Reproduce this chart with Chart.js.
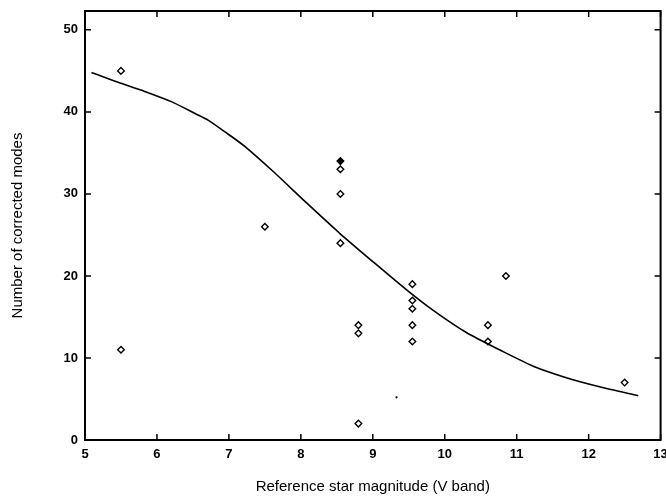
<!DOCTYPE html>
<html>
<head>
<meta charset="utf-8">
<script src="https://cdn.jsdelivr.net/npm/chart.js@4"></script>
<style>
  html, body { margin: 0; padding: 0; background: #fff; }
  #wrap { width: 666px; height: 496px; }
</style>
</head>
<body>
<div id="wrap"><canvas id="chart" width="666" height="496"></canvas></div>
<script>
// measured stars: magnitude vs corrected modes
const starMag   = [5.5, 5.5, 7.5, 8.55, 8.55, 8.55, 8.55, 8.8, 8.8, 8.8, 9.55, 9.55, 9.55, 9.55, 9.55, 10.6, 10.6, 10.85, 12.5];
const starModes = [45, 11, 26, 34, 33, 30, 24, 14, 13, 2, 19, 17, 16, 14, 12, 14, 12, 20, 7];
const filledIdx = [3];

// the lone faint point
const dotMag   = [9.33];
const dotModes = [5.2];

// fitted curve
const fitMag   = [5.09, 5.46, 5.83, 6.20, 6.53, 6.71, 6.94, 7.22, 7.62, 8.08, 8.54, 9.00, 9.47, 9.84, 10.30, 10.76, 11.23, 11.69, 12.15, 12.69];
const fitModes = [44.8, 43.6, 42.5, 41.25, 39.8, 39.0, 37.6, 35.8, 32.7, 28.9, 25.2, 21.75, 18.3, 15.8, 13.1, 11.0, 9.0, 7.6, 6.5, 5.4];

const xTicks = [5, 6, 7, 8, 9, 10, 11, 12, 13];
const yTicks = [0, 10, 20, 30, 40, 50];

const toXY = (xs, ys) => xs.map((x, i) => ({ x: x, y: ys[i] }));

// inward tick marks on all four sides, plus the frame
const innerTicks = {
    id: 'innerTicks',
    afterDraw(chart) {
        const { ctx, chartArea: a, scales: { x, y } } = chart;
        const len = 6;
        ctx.save();
        ctx.strokeStyle = '#000';
        ctx.lineWidth = 1.5;
        ctx.beginPath();
        xTicks.forEach(v => {
            const px = x.getPixelForValue(v);
            ctx.moveTo(px, a.bottom); ctx.lineTo(px, a.bottom - len);
            ctx.moveTo(px, a.top); ctx.lineTo(px, a.top + len);
        });
        yTicks.forEach(v => {
            const py = y.getPixelForValue(v);
            ctx.moveTo(a.left, py); ctx.lineTo(a.left + len, py);
            ctx.moveTo(a.right, py); ctx.lineTo(a.right - len, py);
        });
        ctx.stroke();
        ctx.lineWidth = 2;
        ctx.strokeRect(a.left, a.top, a.right - a.left, a.bottom - a.top);
        ctx.restore();
    }
};

const tickFont = { family: 'Liberation Sans, Arial, sans-serif', size: 13, weight: 'bold' };
const titleFont = { family: 'Liberation Sans, Arial, sans-serif', size: 15 };

new Chart(document.getElementById('chart'), {
    type: 'scatter',
    data: {
        datasets: [
            {
                data: toXY(fitMag, fitModes),
                showLine: true,
                borderColor: '#000',
                borderWidth: 1.6,
                pointRadius: 0,
                tension: 0.25
            },
            {
                data: toXY(starMag, starModes),
                pointStyle: 'rectRot',
                pointRadius: 3.3,
                borderWidth: 1.4,
                borderColor: '#000',
                backgroundColor: ctx => filledIdx.includes(ctx.dataIndex) ? '#000' : '#fff'
            },
            {
                data: toXY(dotMag, dotModes),
                pointStyle: 'circle',
                pointRadius: 1.1,
                borderWidth: 0,
                backgroundColor: '#000'
            }
        ]
    },
    options: {
        responsive: false,
        animation: false,
        layout: { padding: { top: 11, right: 5, left: 0, bottom: 0 } },
        plugins: { legend: { display: false }, tooltip: { enabled: false } },
        scales: {
            x: {
                type: 'linear',
                min: 5, max: 13,
                afterBuildTicks: s => { s.ticks = xTicks.map(v => ({ value: v })); },
                afterFit: s => { s.height = 56; s.paddingLeft = 0; s.paddingRight = 0; },
                grid: { display: false, drawTicks: false },
                border: { display: false },
                ticks: { color: '#000', font: tickFont, padding: 7 },
                title: {
                    display: true,
                    text: 'Reference star magnitude (V band)',
                    color: '#000',
                    font: titleFont,
                    padding: { top: 0, bottom: 0 }
                }
            },
            y: {
                type: 'linear',
                min: 0, max: 52.3,
                afterBuildTicks: s => { s.ticks = yTicks.map(v => ({ value: v })); },
                afterFit: s => { s.width = 85; s.paddingTop = 0; s.paddingBottom = 0; },
                grid: { display: false, drawTicks: false },
                border: { display: false },
                ticks: { color: '#000', font: tickFont, padding: 7 },
                title: {
                    display: true,
                    text: 'Number of corrected modes',
                    color: '#000',
                    font: titleFont,
                    padding: { top: 9, bottom: 0 }
                }
            }
        }
    },
    plugins: [innerTicks]
});
</script>
</body>
</html>
